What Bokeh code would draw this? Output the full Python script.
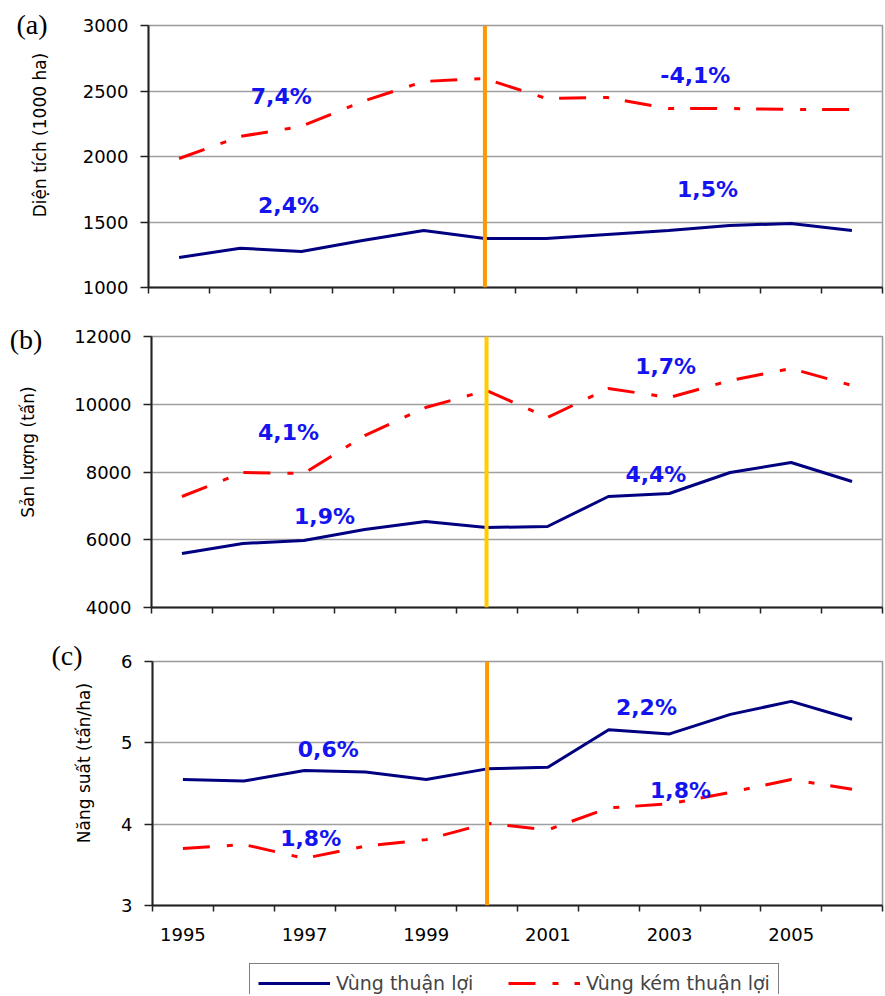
from bokeh.plotting import figure
from bokeh.layouts import column, row
from bokeh.models import FixedTicker, Label, Span, Legend, LegendItem, Range1d, Div
from bokeh.embed import file_html
from bokeh.resources import INLINE

# ---------------- data ----------------
years = [1995, 1996, 1997, 1998, 1999, 2000, 2001, 2002, 2003, 2004, 2005, 2006]
year_labels = [1995, 1997, 1999, 2001, 2003, 2005]
split_year = 2000

series_names = ["Vùng thuận lợi", "Vùng kém thuận lợi"]

area_fav = [1229, 1300, 1275, 1359, 1435, 1374, 1374, 1405, 1435, 1473, 1489, 1435]
area_unfav = [1985, 2153, 2230, 2420, 2573, 2595, 2443, 2450, 2366, 2366, 2359, 2359]

prod_fav = [5594, 5889, 5978, 6303, 6539, 6362, 6391, 7277, 7365, 7985, 8280, 7720]
prod_unfav = [7277, 7985, 7956, 9077, 9904, 10406, 9609, 10465, 10199, 10701, 11055, 10553]

yield_fav = [4.55, 4.53, 4.66, 4.64, 4.55, 4.68, 4.70, 5.16, 5.11, 5.35, 5.51, 5.29]
yield_unfav = [3.70, 3.75, 3.58, 3.73, 3.81, 4.01, 3.93, 4.20, 4.25, 4.39, 4.55, 4.43]

area_rates = ["7,4%", "-4,1%", "2,4%", "1,5%"]
prod_rates = ["4,1%", "1,7%", "1,9%", "4,4%"]
yield_rates = ["0,6%", "2,2%", "1,8%", "1,8%"]

area_ticks = [1000, 1500, 2000, 2500, 3000]
prod_ticks = [4000, 6000, 8000, 10000, 12000]
yield_ticks = [3, 4, 5, 6]

panel_letters = ["(a)", "(b)", "(c)"]
panel_titles = ["Diện tích (1000 ha)", "Sản lượng (tấn)", "Năng suất (tấn/ha)"]

# ---------------- layout / style (not data) ----------------
FONT = "DejaVu Sans"
SERIF = "Liberation Serif"
BLUE = "#1414F0"
NAVY = "#000080"
RED = "#FF0000"
DASH = "27 17 6 16"

area_label_pos = [(1996.67, 2458), (2003.44, 2618), (1996.79, 1626), (2003.64, 1748)]
prod_label_pos = [(1996.75, 9166), (2002.94, 11114), (1997.34, 6686), (2002.78, 7926)]
yield_label_pos = [(1997.39, 4.918), (2002.62, 5.434), (1997.10, 3.824), (2003.18, 4.414)]

half_ticks = [y - 0.5 for y in years] + [years[-1] + 0.5]


def side_div(width, height, letter, letter_xy, title, title_xy):
    html = (
        f'<div style="position:relative;width:{width}px;height:{height}px;">'
        f'<span style="position:absolute;left:{letter_xy[0]}px;top:{letter_xy[1]}px;'
        f'transform:translate(-50%,-50%);font-family:\'{SERIF}\';font-size:28px;'
        f'line-height:1;white-space:nowrap;color:black;">{letter}</span>'
        f'<span style="position:absolute;left:{title_xy[0]}px;top:{title_xy[1]}px;'
        f'transform:translate(-50%,-50%) rotate(-90deg);font-family:\'{FONT}\';font-size:17px;'
        f'line-height:1;white-space:nowrap;color:black;">{title}</span>'
        f'</div>'
    )
    return Div(text=html, width=width, height=height, margin=0)


def make_panel(width, height, top, bottom, left, yticks, fav, unfav, rates, rate_pos,
               split_color, show_years):
    p = figure(width=width, height=height,
               x_range=Range1d(years[0] - 0.5, years[-1] + 0.5),
               y_range=Range1d(yticks[0], yticks[-1]),
               output_backend="svg", toolbar_location=None, title=None,
               min_border_left=left, min_border_right=3,
               min_border_top=top, min_border_bottom=bottom, margin=0)
    p.outline_line_color = "#999999"
    p.outline_line_width = 1.5
    p.background_fill_color = "white"
    p.border_fill_color = "white"

    yt = FixedTicker(ticks=yticks)
    p.yaxis.ticker = yt
    p.ygrid.ticker = yt
    p.ygrid.grid_line_color = "#a0a0a0"
    p.ygrid.grid_line_width = 1.5
    p.xgrid.visible = False
    p.yaxis.axis_line_color = "#222222"
    p.yaxis.axis_line_width = 2
    p.yaxis.major_tick_out = 8
    p.yaxis.major_tick_in = 0
    p.yaxis.major_tick_line_width = 1.5
    p.yaxis.major_tick_line_color = "#222222"
    p.yaxis.minor_tick_line_color = None
    p.yaxis.major_label_standoff = 12
    p.yaxis.major_label_text_font = FONT
    p.yaxis.major_label_text_font_size = "18px"
    p.yaxis.major_label_text_color = "black"

    xt = FixedTicker(ticks=year_labels if show_years else [], minor_ticks=half_ticks)
    p.xaxis.ticker = xt
    p.xaxis.axis_line_color = "#222222"
    p.xaxis.axis_line_width = 2
    p.xaxis.major_tick_line_color = None
    p.xaxis.major_tick_out = 6
    p.xaxis.major_tick_in = 0
    p.xaxis.minor_tick_line_color = "#222222"
    p.xaxis.minor_tick_line_width = 1.5
    p.xaxis.minor_tick_out = 6
    p.xaxis.minor_tick_in = 0
    p.xaxis.major_label_standoff = 16
    p.xaxis.major_label_text_font = FONT
    p.xaxis.major_label_text_font_size = "18px"
    p.xaxis.major_label_text_color = "black"

    r1 = p.line(years, fav, line_color=NAVY, line_width=3)
    r2 = p.line(years, unfav, line_color=RED, line_width=3, line_dash=DASH)

    p.add_layout(Span(location=split_year, dimension="height",
                      line_color=split_color, line_width=4))

    for txt, (lx, ly) in zip(rates, rate_pos):
        p.add_layout(Label(x=lx, y=ly, text=txt, text_font=FONT, text_font_style="bold",
                           text_font_size="22px", text_color=BLUE,
                           text_align="center", text_baseline="middle"))
    return p, r1, r2


# panel (a)
da = side_div(70, 307, panel_letters[0], (32, 25), panel_titles[0], (40, 135))
pa, _, _ = make_panel(815, 307, 25, 20, 78, area_ticks, area_fav, area_unfav,
                      area_rates, area_label_pos, "#FF9900", False)
# panel (b)
db = side_div(66, 320, panel_letters[1], (26, 33), panel_titles[1], (28, 145))
pb, _, _ = make_panel(819, 320, 29, 20, 85, prod_ticks, prod_fav, prod_unfav,
                      prod_rates, prod_label_pos, "#FFCC00", False)
# panel (c)
dc = side_div(100, 333, panel_letters[2], (67, 29), panel_titles[2], (84, 136))
pc, _, _ = make_panel(785, 333, 34, 55, 52, yield_ticks, yield_fav, yield_unfav,
                      yield_rates, yield_label_pos, "#FF9900", True)

# legend strip (its own figure so the legend box is not clipped)
leg = figure(width=885, height=34, x_range=Range1d(0, 1), y_range=Range1d(0, 1),
             x_axis_type=None, y_axis_type=None, output_backend="svg",
             toolbar_location=None, title=None, min_border=0, margin=0)
leg.outline_line_color = None
leg.xgrid.visible = False
leg.ygrid.visible = False
lr1 = leg.line(years, yield_fav, line_color=NAVY, line_width=3)
lr2 = leg.line(years, yield_unfav, line_color=RED, line_width=3, line_dash=DASH)
legend = Legend(items=[LegendItem(label=series_names[0], renderers=[lr1]),
                       LegendItem(label=series_names[1], renderers=[lr2])],
                orientation="horizontal", location=(249, -9),
                glyph_width=72, glyph_height=20, label_height=20, label_width=172,
                label_standoff=6, spacing=0, padding=8, margin=0,
                border_line_color="black", border_line_width=1.5,
                label_text_font=FONT, label_text_font_size="19px",
                background_fill_color="white", background_fill_alpha=1.0)
leg.add_layout(legend)

layout = column(row(da, pa, spacing=0), row(db, pb, spacing=0), row(dc, pc, spacing=0),
                leg, spacing=0)
open("out.html", "w").write(file_html(layout, INLINE))
